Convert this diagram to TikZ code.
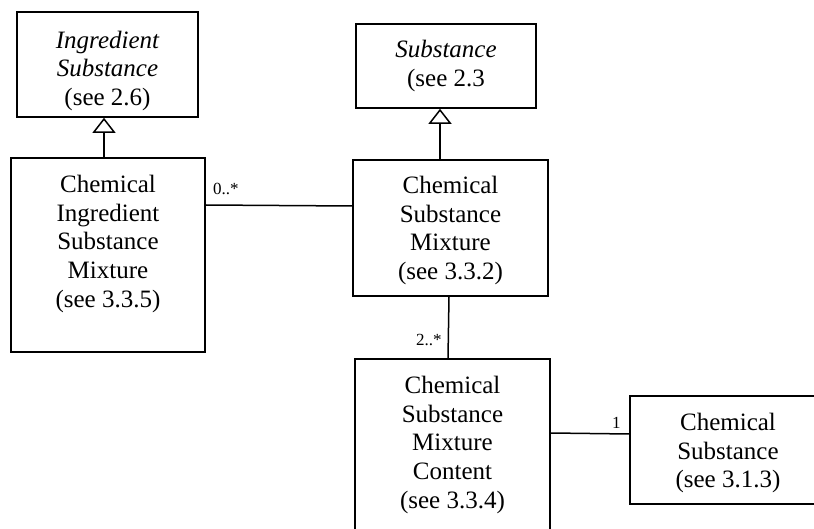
\documentclass[tikz,border=0pt]{standalone}
\usepackage{fontspec}
\setmainfont{Liberation Serif}
\usetikzlibrary{arrows.meta}
\begin{document}
\begin{tikzpicture}[x=1pt,y=-1pt,
  box/.style={draw, line width=1.6pt, rectangle, inner sep=0pt},
  txt/.style={anchor=north, align=center, inner sep=0pt, font=\fontsize{25}{28.7}\selectfont},
  mult/.style={anchor=base west, inner sep=0pt, font=\fontsize{17}{20}\selectfont},
  conn/.style={line width=1.5pt},
  gen/.style={line width=1.5pt, -{Triangle[open, width=23pt, length=15pt, line width=1.5pt]}}]
\useasboundingbox (0,0) rectangle (814,529);
% boxes
\node[box, minimum width=181pt, minimum height=105pt] (b1) at (107.5,64.5) {};
\node[box, minimum width=194pt, minimum height=194pt] (b2) at (108,255) {};
\node[box, minimum width=180pt, minimum height=84pt] (b3) at (446,66) {};
\node[box, minimum width=195pt, minimum height=136pt] (b4) at (450.5,228) {};
\node[box, minimum width=195pt, minimum height=186pt] (b5) at (452.5,452) {};
\node[box, minimum width=230pt, minimum height=108pt] (b6) at (745,450) {};
% texts
\node[txt] (t1) at (107.5,30.5) {\itshape Ingredient\\\itshape Substance\\(see 2.6)};
\node[txt] (t2) at (108,175) {Chemical\\Ingredient\\Substance\\Mixture\\(see 3.3.5)};
\node[txt] (t3) at (446,40) {\itshape Substance\\(see 2.3};
\node[txt] (t4) at (450.5,176) {Chemical\\Substance\\Mixture\\(see 3.3.2)};
\node[txt] (t5) at (452.5,376) {Chemical\\Substance\\Mixture\\Content\\(see 3.3.4)};
\node[txt] (t6) at (728,413) {Chemical\\Substance\\(see 3.1.3)};
% generalizations
\draw[gen] ([xshift=-4pt]b2.north) -- ([xshift=-4pt]b2.north |- b1.south);
\draw[gen] ([xshift=-10.5pt]b4.north) -- ([xshift=-10.5pt]b4.north |- b3.south);
% associations
\draw[conn] ([yshift=50pt]b2.east) -- ([yshift=22pt]b4.west);
\draw[conn] ([xshift=-1.5pt]b4.south) -- ([xshift=-4.5pt]b5.north);
\draw[conn] ([yshift=19pt]b5.east) -- ([yshift=16pt]b6.west);
% multiplicities
\node[mult] (m1) at (213,195) {0..*};
\node[mult] (m2) at (416,345) {2..*};
\node[mult] (m3) at (612,428) {1};
\end{tikzpicture}
\end{document}
